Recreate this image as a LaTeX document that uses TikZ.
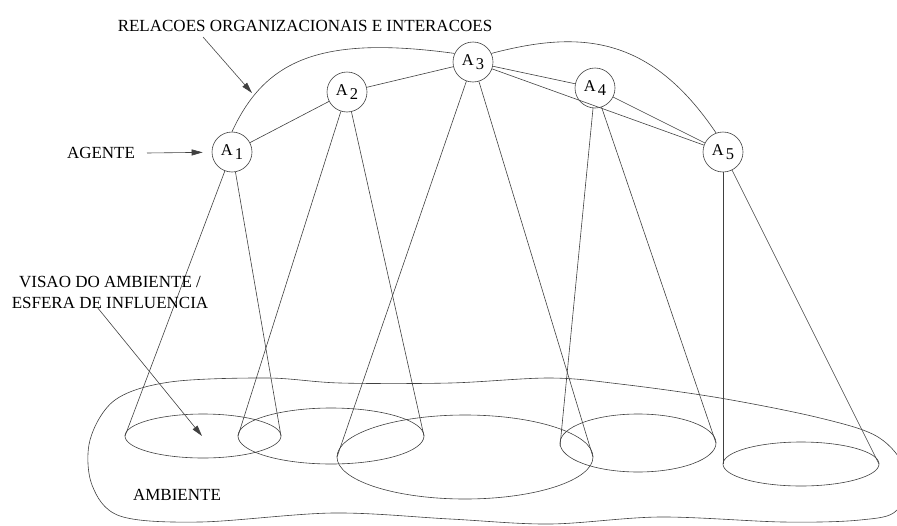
\documentclass[tikz,border=0pt]{standalone}
\usepackage{fontspec}
\setmainfont{Liberation Serif}
\usetikzlibrary{arrows.meta}
\begin{document}
\begin{tikzpicture}[x=1pt,y=-1pt,
  ln/.style={draw=black!75, line width=0.6pt},
  ag/.style={circle, draw=black!75, line width=0.6pt, minimum size=40pt, inner sep=0pt, font=\fontsize{16.5}{18}\selectfont},
  lbl/.style={font=\fontsize{17}{21}\selectfont, inner sep=0pt, align=center},
  arr/.style={ln, -{Triangle[length=11pt,width=6pt]}}]
\useasboundingbox (0,0) rectangle (897,525);
% agents
\newcommand{\agl}[1]{A\kern2pt\raisebox{-4pt}{#1}}
\node[ag] (a1) at (232,152) {\agl{1}};
\node[ag] (a2) at (347,92) {\agl{2}};
\node[ag] (a3) at (473,62) {\agl{3}};
\node[ag] (a4) at (595,88) {\agl{4}};
\node[ag] (a5) at (723,152) {\agl{5}};
% relations
\draw[ln] (a1) -- (a2);
\draw[ln] (a2) -- (a3);
\draw[ln] (a3) -- (a4);
\draw[ln] (a4) -- (a5);
\draw[ln] (a3) -- (a5);
\draw[ln] (a1.90) .. controls (265,60) and (320,35) .. (a3.155);
\draw[ln] (a3.25) .. controls (580,30) and (650,35) .. (a5.110);
% environment
\draw[ln] plot[smooth cycle, tension=0.55] coordinates {(170,382) (267,378) (340,383) (450,383) (550,378) (620,384) (720,398) (820,418) (878,437) (905,470) (897,510) (860,520) (783,522) (660,517) (550,524) (450,519) (333,513) (200,522) (120,516) (92,485) (90,440) (115,400)};
% views (ellipses)
\draw[ln] (203,436) ellipse [x radius=78, y radius=22];
\draw[ln] (331,436) ellipse [x radius=93, y radius=28];
\draw[ln] (465,457) ellipse [x radius=128, y radius=42];
\draw[ln] (638,443) ellipse [x radius=78, y radius=29];
\draw[ln] (801,464) ellipse [x radius=78, y radius=22];
\coordinate (e1l) at (125,436); \coordinate (e1r) at (281,436);
\coordinate (e2l) at (238,436); \coordinate (e2r) at (424,436);
\coordinate (e3l) at (337,457); \coordinate (e3r) at (593,457);
\coordinate (e4l) at (560,446); \coordinate (e4r) at (716,443);
\coordinate (e5l) at (723,464); \coordinate (e5r) at (879,464);
\foreach \i in {1,...,5}{
  \draw[ln] (a\i) -- (e\i l);
  \draw[ln] (a\i) -- (e\i r);
}
% labels
\node[lbl] (rel) at (305,26) {RELACOES ORGANIZACIONAIS E INTERACOES};
\node[lbl] (agt) at (101,153) {AGENTE};
\node[lbl] (vis) at (110,292) {VISAO DO AMBIENTE /\\ESFERA DE INFLUENCIA};
\node[lbl] (amb) at (177,495) {AMBIENTE};
\coordinate (relt) at (203,37);
\coordinate (relh) at (252,93);
\coordinate (agtt) at (147,153);
\coordinate (vist) at (97,307);
\coordinate (vish) at (202,436);
\draw[arr] (relt) -- (relh);
\draw[arr, shorten >=9pt] (agtt) -- (a1);
\draw[arr] (vist) -- (vish);
\end{tikzpicture}
\end{document}
